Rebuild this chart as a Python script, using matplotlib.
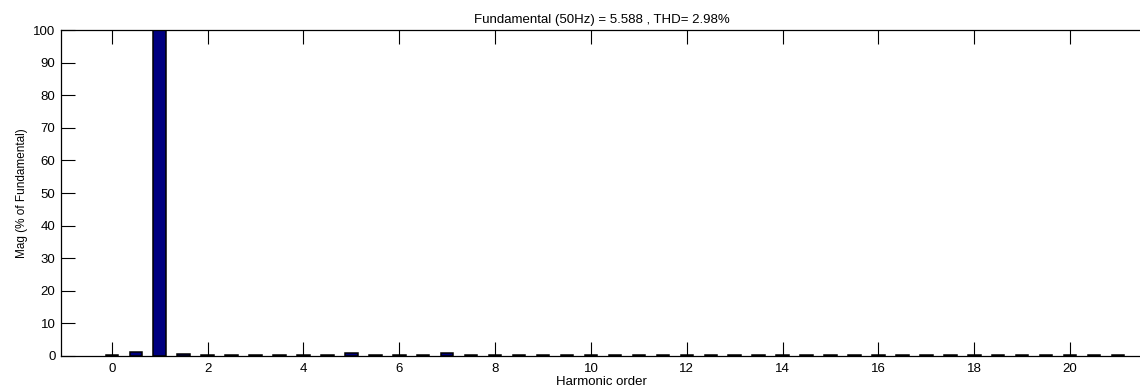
import numpy as np
import matplotlib.pyplot as plt

plt.rcParams['font.family'] = ['Liberation Sans', 'DejaVu Sans']

# harmonic spectrum, 0..21 in half-order steps
orders = np.arange(0, 21.5, 0.5)
mags = [0.4, 1.2, 100.0, 0.7, 0.4, 0.2, 0.2, 0.2, 0.2, 0.2,
        0.8, 0.2, 0.2, 0.2, 0.8, 0.2, 0.2, 0.2, 0.2, 0.2,
        0.2, 0.2, 0.2, 0.2, 0.2, 0.2, 0.2, 0.2, 0.2, 0.2,
        0.2, 0.2, 0.2, 0.2, 0.2, 0.2, 0.2, 0.2, 0.2, 0.2,
        0.2, 0.2, 0.2]
xticks = np.arange(0, 21, 2)
yticks = np.arange(0, 101, 10)
title = 'Fundamental (50Hz) = 5.588 , THD= 2.98%'

W, H = 1140, 389
fig = plt.figure(figsize=(W / 100, H / 100), dpi=100)
x0, x1 = 61, 1142
y0, y1 = 356, 30
ax = fig.add_axes([x0 / W, (H - y0) / H, (x1 - x0) / W, (y0 - y1) / H])

ax.bar(orders, mags, width=0.26, color='#000080', edgecolor='black', linewidth=1.1)

ax.set_xlim(-1.06, 21.5)
ax.set_ylim(0, 100)
ax.set_xticks(xticks)
ax.set_yticks(yticks)
ax.tick_params(direction='in', length=10, width=0.8, labelsize=9.5,
               top=True, right=False, colors='black')
ax.tick_params(axis='y', pad=4)
ax.tick_params(axis='x', pad=5)
for s in ax.spines.values():
    s.set_linewidth(0.9)

ax.set_title(title, fontsize=9.5, pad=5)
ax.set_xlabel('Harmonic order', fontsize=9.5, labelpad=1)
ax.set_ylabel('Mag (% of Fundamental)', fontsize=8.5, labelpad=3.5)

fig.savefig('out.png', dpi=100)
